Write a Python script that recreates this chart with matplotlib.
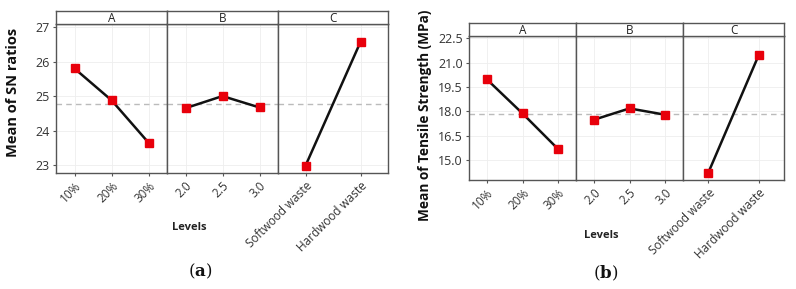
import matplotlib
matplotlib.use("Agg")
import matplotlib.pyplot as plt
from matplotlib.ticker import FormatStrFormatter

# Main effects data
factors = ["A", "B", "C"]
levels = [["10%", "20%", "30%"],
          ["2.0", "2.5", "3.0"],
          ["Softwood waste", "Hardwood waste"]]

sn_means = [[25.80, 24.88, 23.65],
            [24.65, 25.00, 24.67],
            [22.98, 26.57]]
sn_grand_mean = 24.77

ts_means = [[19.97, 17.87, 15.67],
            [17.48, 18.18, 17.79],
            [14.21, 21.47]]
ts_grand_mean = 17.81

W, H = 796, 289
LINE = "#111111"
MARK = "#E8000B"
FRAME = "#555555"

plt.rcParams["font.family"] = ["Open Sans", "DejaVu Sans"]
plt.rcParams["mathtext.fontset"] = "dejavuserif"

fig = plt.figure(figsize=(W / 100, H / 100), dpi=100)


def px_axes(x0, y0, x1, y1):
    """Axes from pixel box (top-left origin)."""
    return fig.add_axes([x0 / W, 1 - y1 / H, (x1 - x0) / W, (y1 - y0) / H])


def draw_panel(edges, top, strip_top, bottom, means, grand, ylim, yticks, yfmt,
               ylabel, ylabel_xy, ylabel_size, levels_xy, caption_xy, caption):
    for i, fac in enumerate(factors):
        x0, x1 = edges[i], edges[i + 1]
        ax = px_axes(x0, top, x1, bottom)
        xs = list(range(1, len(levels[i]) + 1))
        ax.axhline(grand, color="#BBBBBB", lw=1.0, ls=(0, (4, 3)), zorder=1)
        ax.plot(xs, means[i], color=LINE, lw=1.8, zorder=2)
        ax.plot(xs, means[i], ls="none", marker="s", ms=5.5, mfc=MARK, mec=MARK, zorder=3)
        ax.set_xlim(0.5, len(xs) + 0.5)
        ax.set_ylim(*ylim)
        ax.set_yticks(yticks)
        ax.yaxis.set_major_formatter(FormatStrFormatter(yfmt))
        ax.set_xticks(xs)
        ax.set_xticklabels(levels[i], rotation=45, ha="right", rotation_mode="anchor",
                           fontsize=8.5, color="#333333")
        ax.grid(True, color="#EEEEEE", lw=0.6, zorder=0)
        ax.set_axisbelow(True)
        for sp in ax.spines.values():
            sp.set_color(FRAME)
            sp.set_linewidth(1.0)
        ax.tick_params(axis="both", length=2.5, width=0.8, color=FRAME, pad=2)
        if i == 0:
            ax.tick_params(axis="y", labelsize=9, labelcolor="#333333")
        else:
            ax.tick_params(axis="y", left=False, labelleft=False)

        # facet strip
        sax = px_axes(x0, strip_top, x1, top)
        sax.set_xticks([])
        sax.set_yticks([])
        for sp in sax.spines.values():
            sp.set_color(FRAME)
            sp.set_linewidth(1.0)
        sax.text(0.5, 0.45, fac, ha="center", va="center", fontsize=8.5, color="#222222",
                 transform=sax.transAxes)

    fig.text(ylabel_xy[0] / W, 1 - ylabel_xy[1] / H, ylabel, rotation=90,
             ha="center", va="center", fontsize=ylabel_size, fontweight="bold", color="#111111")
    fig.text(levels_xy[0] / W, 1 - levels_xy[1] / H, "Levels", ha="center", va="center",
             fontsize=8, fontweight="bold", color="#222222")
    fig.text(caption_xy[0] / W, 1 - caption_xy[1] / H, caption, ha="center", va="center",
             fontsize=12, color="#111111")


draw_panel([56, 167, 278, 388], 24, 11, 173, sn_means, sn_grand_mean,
           (22.77, 27.09), [23, 24, 25, 26, 27], "%d",
           "Mean of SN ratios", (13, 92), 10.5, (189, 228), (200, 271),
           r"$(\mathbf{a})$")

draw_panel([469, 576, 683, 784], 36, 23, 180, ts_means, ts_grand_mean,
           (13.77, 22.64), [15.0, 16.5, 18.0, 19.5, 21.0, 22.5], "%.1f",
           "Mean of Tensile Strength (MPa)", (425, 115), 9.8, (601, 235), (606, 273),
           r"$(\mathbf{b})$")

fig.savefig("out.png", dpi=100)
